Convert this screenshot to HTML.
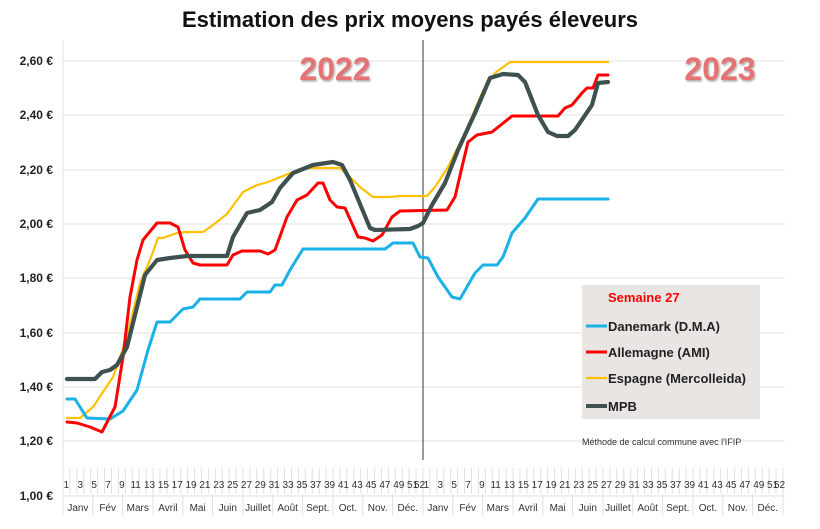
<!DOCTYPE html>
<html><head><meta charset="utf-8"><style>
html,body{margin:0;padding:0;background:#fff;}
svg{display:block;font-family:"Liberation Sans",sans-serif;}
</style></head><body>
<svg width="820" height="529" viewBox="0 0 820 529" xmlns="http://www.w3.org/2000/svg">
<defs><filter id="sh" x="-5%" y="-5%" width="110%" height="110%"><feDropShadow dx="1" dy="1.5" stdDeviation="1" flood-color="#000" flood-opacity="0.35"/></filter></defs>
<text x="410" y="27" text-anchor="middle" font-size="22" font-weight="bold" fill="#111">Estimation des prix moyens payés éleveurs</text>
<g stroke="#e2e2e2" stroke-width="1">
<line x1="63" y1="61" x2="785" y2="61"/><line x1="63" y1="115" x2="785" y2="115"/>
<line x1="63" y1="170" x2="785" y2="170"/><line x1="63" y1="224" x2="785" y2="224"/>
<line x1="63" y1="278" x2="785" y2="278"/><line x1="63" y1="333" x2="785" y2="333"/>
<line x1="63" y1="387" x2="785" y2="387"/><line x1="63" y1="441" x2="785" y2="441"/>
<line x1="63" y1="496" x2="785" y2="496"/>
<line x1="63" y1="40" x2="63" y2="515"/>
</g>
<g font-size="12" font-weight="bold" fill="#222" text-anchor="end">
<text x="53" y="65">2,60 €</text><text x="53" y="119">2,40 €</text><text x="53" y="174">2,20 €</text>
<text x="53" y="228">2,00 €</text><text x="53" y="282">1,80 €</text><text x="53" y="337">1,60 €</text>
<text x="53" y="391">1,40 €</text><text x="53" y="445">1,20 €</text><text x="53" y="500">1,00 €</text>
</g>
<g id="ticks" stroke="#e0e0e0" stroke-width="1"></g>
<g id="wk" font-size="10" fill="#333" text-anchor="middle"></g>
<g id="mo" font-size="10" fill="#333" text-anchor="middle"></g>
<line x1="423" y1="40" x2="423" y2="460" stroke="#333" stroke-width="1"/>
<text x="335" y="80" text-anchor="middle" font-size="32" font-weight="bold" fill="#e57373" filter="url(#sh)">2022</text>
<text x="720" y="80" text-anchor="middle" font-size="32" font-weight="bold" fill="#e57373" filter="url(#sh)">2023</text>
<g fill="none" stroke-linejoin="round" stroke-linecap="round">
<polyline stroke="#ffc000" stroke-width="2.2" points="67,418 80,418 93,407 113,377 127,337 140,283 150,260 158,238 163,238 177,233 187,232 203,232 213,225 227,214 243,192 257,185 268,182 283,176 293,172 307,168 340,168 350,177 360,187 373,197 390,197 400,196 427,196 435,187 448,167 465,133 482,93 495,73 510,62 608,62"/>
<polyline stroke="#1ab0e8" stroke-width="3" points="67,399 75,399 87,418 110,419 123,411 137,390 148,350 157,322 170,322 183,309 193,307 200,299 240,299 247,292 270,292 275,285 282,285 290,270 303,249 385,249 393,243 413,243 420,257 428,258 438,277 452,297 460,299 475,273 483,265 497,265 503,257 512,233 525,218 538,199 608,199"/>
<polyline stroke="#ff0000" stroke-width="3" points="67,422 77,423 90,427 102,432 115,407 123,357 130,297 137,260 143,240 157,223 170,223 178,227 185,250 193,263 200,265 227,265 233,255 242,251 260,251 268,254 275,250 287,217 297,200 307,195 318,183 323,183 330,200 337,207 345,208 358,237 365,238 373,241 382,235 392,217 400,211 447,210 455,197 462,167 468,142 477,135 492,132 512,116 558,116 565,108 572,105 582,93 587,88 593,88 598,75 608,75"/>
<polyline stroke="#3e5050" stroke-width="4.2" points="67,379 95,379 102,372 110,370 117,365 127,347 137,307 145,275 157,260 170,258 187,256 227,256 233,237 247,213 260,210 272,202 280,188 293,173 313,165 333,162 342,165 350,180 370,228 375,230 410,229 418,226 423,223 432,205 445,183 458,150 475,113 490,78 503,74 518,75 525,82 538,115 548,132 557,136 568,136 575,130 592,105 598,83 608,82"/>
</g>
<rect x="582" y="285" width="178" height="134" fill="#e8e5e2"/>
<g font-size="13" font-weight="bold">
<text x="608" y="302" fill="#ff0000">Semaine 27</text>
<line x1="586" y1="326" x2="607" y2="326" stroke="#1ab0e8" stroke-width="3"/><text x="608" y="331" fill="#222">Danemark (D.M.A)</text>
<line x1="586" y1="352" x2="607" y2="352" stroke="#ff0000" stroke-width="3"/><text x="608" y="357" fill="#222">Allemagne (AMI)</text>
<line x1="586" y1="378" x2="607" y2="378" stroke="#ffc000" stroke-width="2.2"/><text x="608" y="383" fill="#222">Espagne (Mercolleida)</text>
<line x1="586" y1="406" x2="607" y2="406" stroke="#3e5050" stroke-width="4"/><text x="608" y="411" fill="#222">MPB</text>
</g>
<text x="582" y="445" font-size="9" fill="#333">Méthode de calcul commune avec l'IFIP</text>
<script>
var ns="http://www.w3.org/2000/svg",w=720/104,t=document.getElementById('ticks'),wk=document.getElementById('wk'),mo=document.getElementById('mo');
function el(p,n,a,txt){var e=document.createElementNS(ns,n);for(var k in a)e.setAttribute(k,a[k]);if(txt)e.textContent=txt;p.appendChild(e);}
for(var i=0;i<=104;i++){var x=63+i*w;el(t,'line',{x1:x,y1:468,x2:x,y2:494});}
for(var y=0;y<2;y++)for(var k=1;k<=52;k++){if(k%2==0&&k!=52)continue;var x=63+(y*52+k-0.5)*w;el(wk,'text',{x:x,y:488},String(k));}
var m=["Janv","Fév","Mars","Avril","Mai","Juin","Juillet","Août","Sept.","Oct.","Nov.","Déc."],b=[0,4.3,8.6,13,17.3,21.6,26,30.3,34.6,39,43.3,47.6,52];
for(var y=0;y<2;y++)for(var j=0;j<12;j++){var x0=63+(y*52+b[j])*w,x1=63+(y*52+b[j+1])*w;el(t,'line',{x1:x0,y1:494,x2:x0,y2:515});el(mo,'text',{x:(x0+x1)/2,y:511},m[j]);}
el(t,'line',{x1:783,y1:494,x2:783,y2:515});
</script>
</svg>
</body></html>
